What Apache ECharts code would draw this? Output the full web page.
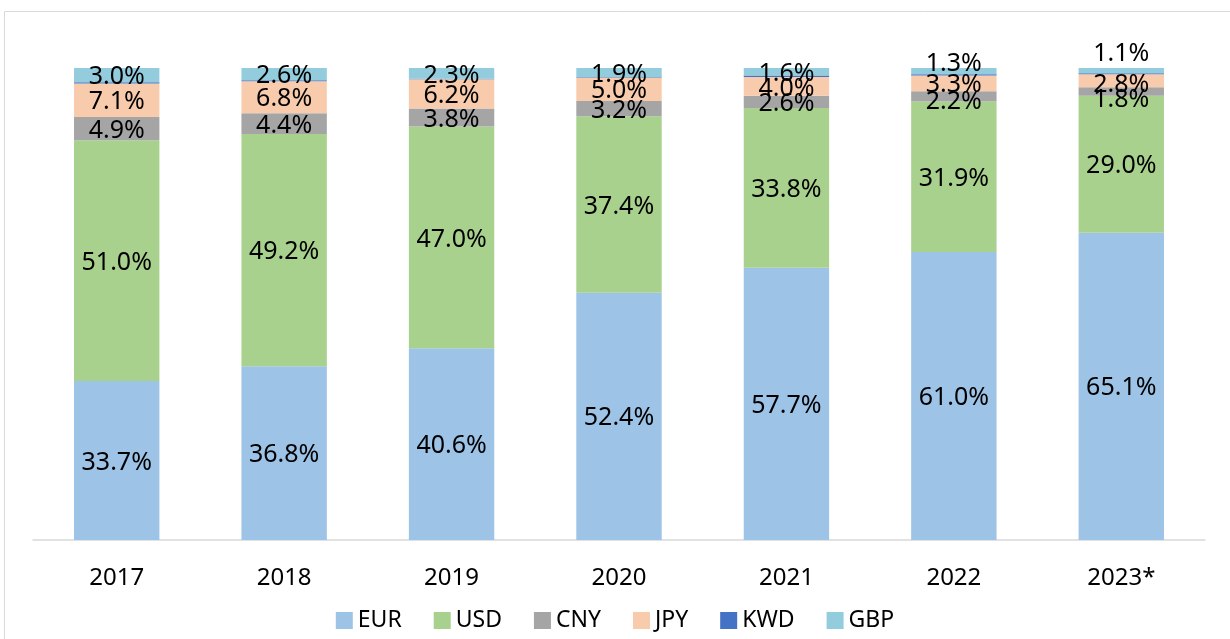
<!DOCTYPE html>
<html>
<head>
<meta charset="utf-8">
<script src="https://cdn.jsdelivr.net/npm/echarts@6/dist/echarts.min.js"></script>
<style>
  html, body { margin: 0; padding: 0; background: #fff; }
  #main { width: 1230px; height: 639px; }
</style>
</head>
<body>
<div id="main"></div>
<script>
var myChart = echarts.init(document.getElementById('main'));

var years = ['2017', '2018', '2019', '2020', '2021', '2022', '2023*'];
var eur = [33.7, 36.8, 40.6, 52.4, 57.7, 61.0, 65.1];
var usd = [51.0, 49.2, 47.0, 37.4, 33.8, 31.9, 29.0];
var cny = [4.9, 4.4, 3.8, 3.2, 2.6, 2.2, 1.8];
var jpy = [7.1, 6.8, 6.2, 5.0, 4.0, 3.3, 2.8];
var kwd = [0.3, 0.2, 0.1, 0.1, 0.3, 0.3, 0.2];
var gbp = [3.0, 2.6, 2.3, 1.9, 1.6, 1.3, 1.1];

var font = '"Noto Sans", sans-serif';

function mk(name, values, color, showLabel) {
    return {
        name: name,
        type: 'bar',
        stack: 'total',
        barWidth: '51%',
        itemStyle: { color: color },
        label: {
            show: showLabel,
            position: 'inside',
            offset: [0, 2],
            formatter: function (p) { return p.value.toFixed(1) + '%'; },
            color: '#000',
            fontSize: 25,
            fontFamily: font
        },
        data: values.slice()
    };
}

var gbpSeries = mk('GBP', gbp, '#93CDDD', true);
// last two small GBP labels sit above the bar
gbpSeries.data[5] = { value: gbp[5], label: { position: 'top', distance: -6 } };
gbpSeries.data[6] = { value: gbp[6], label: { position: 'top', distance: 4 } };
var cnySeries = mk('CNY', cny, '#A5A5A5', true);
cnySeries.data[5] = { value: cny[5], label: { offset: [0, 6] } };
cnySeries.data[6] = { value: cny[6], label: { offset: [0, 8] } };
var jpySeries = mk('JPY', jpy, '#F8CBAD', true);
jpySeries.data[6] = { value: jpy[6], label: { offset: [0, 4] } };

var option = {
    animation: false,
    textStyle: { fontFamily: font },
    graphic: [{
        type: 'rect',
        shape: { x: 4.5, y: 11.5, width: 1240, height: 640 },
        style: { fill: 'none', stroke: '#d9d9d9', lineWidth: 1 }
    }],
    grid: { left: 33, right: 25, top: 68, bottom: 99 },
    legend: {
        bottom: 2,
        left: 'center',
        itemWidth: 17,
        itemHeight: 17,
        itemGap: 32,
        icon: 'rect',
        textStyle: { fontSize: 23, color: '#000', fontFamily: font },
        data: ['EUR', 'USD', 'CNY', 'JPY', 'KWD', 'GBP']
    },
    xAxis: {
        type: 'category',
        data: years,
        axisLine: { lineStyle: { color: '#d9d9d9', width: 1.5 } },
        axisTick: { show: false },
        axisLabel: { color: '#000', fontSize: 24, margin: 26, fontFamily: font }
    },
    yAxis: {
        type: 'value',
        min: 0,
        max: 100,
        show: false,
        splitLine: { show: false }
    },
    series: [
        mk('EUR', eur, '#9DC3E6', true),
        mk('USD', usd, '#A9D18E', true),
        cnySeries,
        jpySeries,
        mk('KWD', kwd, '#4472C4', false),
        gbpSeries
    ]
};
myChart.setOption(option);
</script>
</body>
</html>
